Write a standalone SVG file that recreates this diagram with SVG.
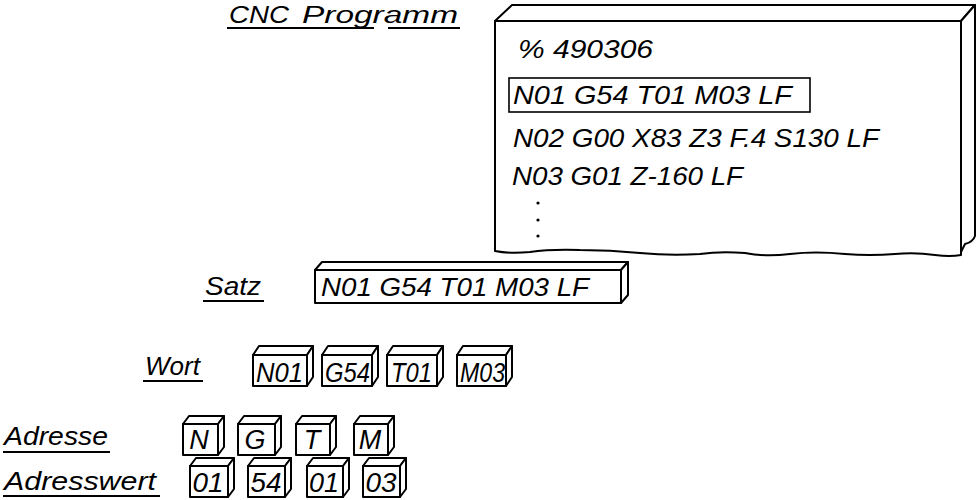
<svg xmlns="http://www.w3.org/2000/svg" width="980" height="500" viewBox="0 0 980 500">
<style>
  .t { font-family: "Liberation Sans", Arial, sans-serif; font-style: italic; font-size: 25px; fill: #000; }
  .h { font-family: "Liberation Sans", Arial, sans-serif; font-style: italic; font-size: 23px; fill: #000; }
  .b { font-family: "Liberation Sans", Arial, sans-serif; font-style: italic; font-size: 27px; fill: #000; }
  .s { fill: #fff; stroke: #000; stroke-width: 2; stroke-linejoin: round; }
  .u { stroke: #000; stroke-width: 2; fill: none; }
</style>
<rect width="980" height="500" fill="#fff"/>

<g id="title">
  <text class="h" x="229" y="23" textLength="60" lengthAdjust="spacingAndGlyphs">CNC</text>
  <text class="h" x="302" y="23" textLength="156" lengthAdjust="spacingAndGlyphs">Programm</text>
  <line class="u" x1="227" y1="28" x2="374" y2="28"/>
  <line class="u" x1="388" y1="28" x2="460" y2="28"/>
</g>

<g id="program">
  <path class="s" d="M495,21 L512,5 L975,5 L961,21 Z"/>
  <path class="s" d="M961,21 L975,5 L975,236 Q973,242 965,244 L961,252 Z"/>
  <path class="s" d="M495,21 L961,21 L961,255 Q950,257 935,255 Q915,252 895,254 Q870,256 845,254 Q815,251 790,254 Q765,257 745,253 Q720,251 700,254 Q670,256 640,253 Q610,250 580,250 Q550,249 530,252 Q510,254 495,251 Z"/>
  <text class="t" x="518" y="58" textLength="135" lengthAdjust="spacingAndGlyphs">% 490306</text>
  <rect x="509" y="78" width="301" height="34" fill="none" stroke="#000" stroke-width="1.6"/>
  <text class="t" x="513" y="104" textLength="279" lengthAdjust="spacingAndGlyphs">N01 G54 T01 M03 LF</text>
  <text class="t" x="513" y="147" textLength="366" lengthAdjust="spacingAndGlyphs">N02 G00 X83 Z3 F.4 S130 LF</text>
  <text class="t" x="512" y="185" textLength="231" lengthAdjust="spacingAndGlyphs">N03 G01 Z-160 LF</text>
  <circle cx="538" cy="203" r="1.6"/>
  <circle cx="538" cy="220" r="1.6"/>
  <circle cx="538" cy="236" r="1.6"/>
</g>

<g id="satz">
  <text class="t" x="205" y="295" textLength="56" lengthAdjust="spacingAndGlyphs">Satz</text>
  <line class="u" x1="203" y1="301" x2="264" y2="301"/>
  <path class="s" d="M315,270 L322,262 L628,262 L621,270 Z"/>
  <path class="s" d="M621,270 L628,262 L628,295 L621,303 Z"/>
  <rect class="s" x="315" y="270" width="306" height="33"/>
  <text class="t" x="321" y="296" textLength="268" lengthAdjust="spacingAndGlyphs">N01 G54 T01 M03 LF</text>
</g>

<g id="wort">
  <text class="t" x="145" y="375" textLength="55" lengthAdjust="spacingAndGlyphs">Wort</text>
  <line class="u" x1="143" y1="381" x2="203" y2="381"/>
  <g id="wort-N01">
    <path class="s" d="M253,355 L259,346 L313,346 L307,355 Z"/>
    <path class="s" d="M307,355 L313,346 L313,377 L307,386 Z"/>
    <rect class="s" x="253" y="355" width="54" height="31"/>
    <text class="b" x="256" y="382" textLength="47" lengthAdjust="spacingAndGlyphs">N01</text>
  </g>
  <g id="wort-G54">
    <path class="s" d="M322,355 L328,346 L378,346 L372,355 Z"/>
    <path class="s" d="M372,355 L378,346 L378,377 L372,386 Z"/>
    <rect class="s" x="322" y="355" width="50" height="31"/>
    <text class="b" x="325" y="382" textLength="45" lengthAdjust="spacingAndGlyphs">G54</text>
  </g>
  <g id="wort-T01">
    <path class="s" d="M387,355 L393,346 L443,346 L437,355 Z"/>
    <path class="s" d="M437,355 L443,346 L443,377 L437,386 Z"/>
    <rect class="s" x="387" y="355" width="50" height="31"/>
    <text class="b" x="391" y="382" textLength="41" lengthAdjust="spacingAndGlyphs">T01</text>
  </g>
  <g id="wort-M03">
    <path class="s" d="M457,355 L463,346 L512,346 L506,355 Z"/>
    <path class="s" d="M506,355 L512,346 L512,377 L506,386 Z"/>
    <rect class="s" x="457" y="355" width="49" height="31"/>
    <text class="b" x="460" y="382" textLength="45" lengthAdjust="spacingAndGlyphs">M03</text>
  </g>
</g>

<g id="adresse">
  <text class="t" x="4" y="445" textLength="104" lengthAdjust="spacingAndGlyphs">Adresse</text>
  <line class="u" x1="3" y1="452" x2="110" y2="452"/>
  <g id="adr-N">
    <path class="s" d="M183,424 L189,416 L224,416 L218,424 Z"/>
    <path class="s" d="M218,424 L224,416 L224,447 L218,455 Z"/>
    <rect class="s" x="183" y="424" width="35" height="31"/>
    <text class="b" x="199" y="449" text-anchor="middle">N</text>
  </g>
  <g id="adr-G">
    <path class="s" d="M238,424 L244,416 L281,416 L275,424 Z"/>
    <path class="s" d="M275,424 L281,416 L281,447 L275,455 Z"/>
    <rect class="s" x="238" y="424" width="37" height="31"/>
    <text class="b" x="255" y="449" text-anchor="middle">G</text>
  </g>
  <g id="adr-T">
    <path class="s" d="M296,424 L302,416 L336,416 L330,424 Z"/>
    <path class="s" d="M330,424 L336,416 L336,447 L330,455 Z"/>
    <rect class="s" x="296" y="424" width="34" height="31"/>
    <text class="b" x="312" y="449" text-anchor="middle">T</text>
  </g>
  <g id="adr-M">
    <path class="s" d="M354,424 L360,416 L394,416 L388,424 Z"/>
    <path class="s" d="M388,424 L394,416 L394,447 L388,455 Z"/>
    <rect class="s" x="354" y="424" width="34" height="31"/>
    <text class="b" x="370" y="449" text-anchor="middle">M</text>
  </g>
</g>

<g id="adresswert">
  <text class="t" x="4" y="490" textLength="152" lengthAdjust="spacingAndGlyphs">Adresswert</text>
  <line class="u" x1="3" y1="496" x2="160" y2="496"/>
  <g id="wert-01a">
    <path class="s" d="M190,466 L196,458 L234,458 L228,466 Z"/>
    <path class="s" d="M228,466 L234,458 L234,489 L228,497 Z"/>
    <rect class="s" x="190" y="466" width="38" height="31"/>
    <text class="b" x="208" y="492" text-anchor="middle" textLength="31" lengthAdjust="spacingAndGlyphs">01</text>
  </g>
  <g id="wert-54">
    <path class="s" d="M248,466 L254,458 L291,458 L285,466 Z"/>
    <path class="s" d="M285,466 L291,458 L291,489 L285,497 Z"/>
    <rect class="s" x="248" y="466" width="37" height="31"/>
    <text class="b" x="266" y="492" text-anchor="middle" textLength="31" lengthAdjust="spacingAndGlyphs">54</text>
  </g>
  <g id="wert-01b">
    <path class="s" d="M307,466 L313,458 L349,458 L343,466 Z"/>
    <path class="s" d="M343,466 L349,458 L349,489 L343,497 Z"/>
    <rect class="s" x="307" y="466" width="36" height="31"/>
    <text class="b" x="324" y="492" text-anchor="middle" textLength="30" lengthAdjust="spacingAndGlyphs">01</text>
  </g>
  <g id="wert-03">
    <path class="s" d="M363,466 L369,458 L406,458 L400,466 Z"/>
    <path class="s" d="M400,466 L406,458 L406,489 L400,497 Z"/>
    <rect class="s" x="363" y="466" width="37" height="31"/>
    <text class="b" x="381" y="492" text-anchor="middle" textLength="31" lengthAdjust="spacingAndGlyphs">03</text>
  </g>
</g>

<g id="connectors"></g>
</svg>
